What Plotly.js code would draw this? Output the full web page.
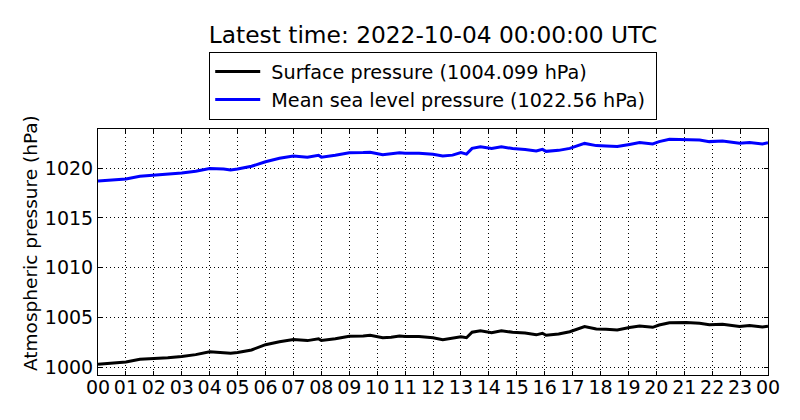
<!DOCTYPE html>
<html>
<head>
<meta charset="utf-8">
<script src="https://cdn.plot.ly/plotly-3.0.1.min.js"></script>
<style>
  body { margin: 0; background: #fff; }
  #grafico { width: 800px; height: 420px; }
</style>
</head>
<body>
<div id="grafico"></div>
<script>
// hours since 2022-10-03 00:00 UTC
const hours = [0, 0.5, 1, 1.5, 2, 2.5, 3, 3.5, 4, 4.5, 4.75, 5, 5.5, 6, 6.5, 7, 7.5, 7.9, 8, 8.5,
	9, 9.5, 9.75, 10.2, 10.5, 10.8, 11, 11.5, 12, 12.35, 12.7, 13, 13.2, 13.4, 13.7, 14.1, 14.45, 14.85,
	15.3, 15.7, 15.92, 16.05, 16.5, 16.9, 17.43, 17.85, 18.2, 18.6, 19.04, 19.4, 19.87, 20.1, 20.47,
	21.07, 21.55, 21.9, 22.37, 22.98, 23.34, 23.8, 24];

const surfacePressure = [1000.27, 1000.35, 1000.5, 1000.78, 1000.85, 1000.93, 1001.07, 1001.25, 1001.53, 1001.47,
	1001.4, 1001.47, 1001.72, 1002.25, 1002.55, 1002.77, 1002.66, 1002.85, 1002.67, 1002.85,
	1003.1, 1003.13, 1003.2, 1002.95, 1003.0, 1003.13, 1003.07, 1003.08, 1002.95, 1002.76, 1002.9, 1003.05,
	1002.95, 1003.5, 1003.65, 1003.45, 1003.66, 1003.5, 1003.43, 1003.24, 1003.4, 1003.2, 1003.33, 1003.55,
	1004.08, 1003.83, 1003.8, 1003.73, 1003.97, 1004.13, 1004.0, 1004.23, 1004.46, 1004.47, 1004.4,
	1004.25, 1004.3, 1004.07, 1004.18, 1004.03, 1004.099];

const seaLevelPressure = [1018.72, 1018.8, 1018.92, 1019.2, 1019.3, 1019.38, 1019.52, 1019.7, 1019.98, 1019.92,
	1019.83, 1019.92, 1020.2, 1020.65, 1021.0, 1021.22, 1021.1, 1021.3, 1021.12, 1021.3,
	1021.55, 1021.58, 1021.62, 1021.35, 1021.45, 1021.57, 1021.5, 1021.52, 1021.4, 1021.24, 1021.32, 1021.57,
	1021.42, 1022.0, 1022.17, 1022.0, 1022.17, 1021.98, 1021.88, 1021.74, 1021.9, 1021.7, 1021.8, 1022.0,
	1022.5, 1022.28, 1022.25, 1022.18, 1022.4, 1022.58, 1022.45, 1022.68, 1022.92, 1022.92, 1022.85,
	1022.68, 1022.75, 1022.52, 1022.6, 1022.45, 1022.56];

const tickHours = [0, 1, 2, 3, 4, 5, 6, 7, 8, 9, 10, 11, 12, 13, 14, 15, 16, 17, 18, 19, 20, 21, 22, 23, 24];
const tickLabels = ['00', '01', '02', '03', '04', '05', '06', '07', '08', '09', '10', '11', '12',
	'13', '14', '15', '16', '17', '18', '19', '20', '21', '22', '23', '00'];

const titleText = 'Latest time: 2022-10-04 00:00:00 UTC';
const yTitleText = 'Atmospheric pressure (hPa)';
const surfaceName = 'Surface pressure (1004.099 hPa)';
const seaLevelName = 'Mean sea level pressure (1022.56 hPa)';

plot();
function plot() {
	const font = 'DejaVu Sans, sans-serif';
	const pad = '\u00a0'; // a bit of room round the legend text, like matplotlib

	const surface = {
		x: hours,
		y: surfacePressure,
		name: pad + surfaceName + pad,
		mode: 'lines',
		line: {color: '#000000', width: 3}
	};
	const seaLevel = {
		x: hours,
		y: seaLevelPressure,
		name: pad + seaLevelName + pad,
		mode: 'lines',
		line: {color: '#0000ff', width: 3}
	};

	const axisStyle = {
		showline: true,
		linecolor: '#000000',
		linewidth: 1,
		mirror: 'ticks',
		ticks: 'inside',
		ticklen: 4,
		tickcolor: '#000000',
		showgrid: true,
		gridcolor: '#000000',
		gridwidth: 1,
		griddash: '1px,3px',
		zeroline: false,
		tickfont: {family: font, size: 19, color: '#000000'}
	};

	const layout = {
		width: 800,
		height: 420,
		margin: {l: 98, r: 32, t: 129, b: 45},
		paper_bgcolor: '#ffffff',
		plot_bgcolor: '#ffffff',
		font: {family: font, color: '#000000'},
		title: {
			text: titleText,
			font: {family: font, size: 23.3, color: '#000000'},
			x: 0.5, xref: 'paper', xanchor: 'center',
			y: 0.917, yref: 'container', yanchor: 'middle'
		},
		showlegend: true,
		legend: {
			x: 0.166, y: 1.315, xanchor: 'left', yanchor: 'top',
			bordercolor: '#000000', borderwidth: 1, bgcolor: '#ffffff',
			font: {family: font, size: 19.2, color: '#000000'},
			itemwidth: 45,
			tracegroupgap: 0
		},
		xaxis: Object.assign({}, axisStyle, {
			range: [0, 24],
			tickmode: 'array',
			tickvals: tickHours,
			ticktext: tickLabels,
			ticklabelstandoff: -5
		}),
		yaxis: Object.assign({}, axisStyle, {
			range: [999.2, 1023.95],
			tickmode: 'linear',
			tick0: 1000,
			dtick: 5
		}),
		annotations: [{
			text: yTitleText,
			textangle: -90,
			font: {family: font, size: 18.5, color: '#000000'},
			xref: 'paper', yref: 'paper',
			x: 0, y: 0.5,
			xanchor: 'center', yanchor: 'middle',
			xshift: -68, yshift: 9,
			showarrow: false
		}]
	};

	Plotly.newPlot('grafico', [surface, seaLevel], layout, {staticPlot: true, displayModeBar: false});
}
</script>
</body>
</html>
